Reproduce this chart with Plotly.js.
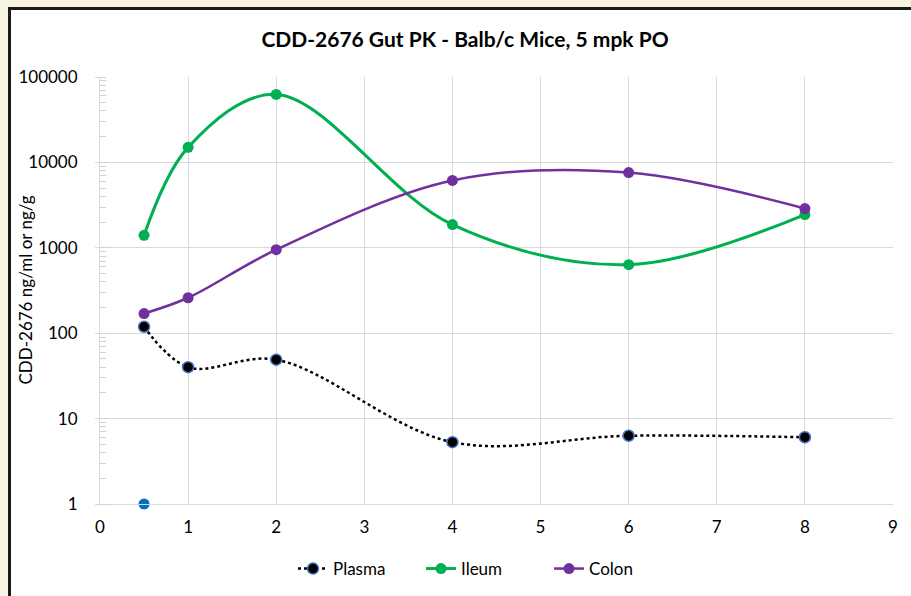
<!DOCTYPE html>
<html><head><meta charset="utf-8">
<script src="https://cdn.plot.ly/plotly-3.0.1.min.js"></script>
<style>
html,body{margin:0;padding:0;background:#f8f4e4;width:911px;height:596px;overflow:hidden;}
#frame{position:absolute;left:8px;top:7px;width:903px;height:589px;background:#fff;border-top:3px solid #1a1a1a;border-left:3px solid #1a1a1a;}
#chart{position:absolute;left:0;top:0;width:911px;height:596px;}
</style></head>
<body>
<div id="frame"></div>
<div id="chart"></div>
<script>
const timeHours = [0.5, 1, 2, 4, 6, 8];
const plasma = [119, 40, 49, 5.3, 6.3, 6.05];
const ileum = [1400, 15000, 62500, 1870, 635, 2450];
const colon = [170, 260, 950, 6150, 7600, 2880];
const extraX = [0.5];
const extraY = [1];
const xTicks = [0,1,2,3,4,5,6,7,8,9];
const yTicks = [1,10,100,1000,10000,100000];
const yTickText = ['1','10','100','1000','10000','100000'];

const traces = [
  {x: timeHours, y: plasma, name: 'Plasma', mode: 'lines+markers', cliponaxis: false,
   line: {color: '#000', width: 2.5, dash: 'dot', shape: 'spline', smoothing: 1},
   marker: {color: '#000', size: 11, line: {color: '#4472C4', width: 1.5}}},
  {x: timeHours, y: ileum, name: 'Ileum', mode: 'lines+markers', cliponaxis: false,
   line: {color: '#00B050', width: 3, shape: 'spline', smoothing: 1},
   marker: {color: '#00B050', size: 11}},
  {x: timeHours, y: colon, name: 'Colon', mode: 'lines+markers', cliponaxis: false,
   line: {color: '#7030A0', width: 2.5, shape: 'spline', smoothing: 1},
   marker: {color: '#7030A0', size: 11}},
  {x: extraX, y: extraY, name: 'Series', mode: 'markers', showlegend: false, cliponaxis: false,
   marker: {color: '#0070C0', size: 11}}
];

const font = 'Lato, "Open Sans", sans-serif';
const layout = {
  width: 911, height: 596,
  paper_bgcolor: 'rgba(0,0,0,0)', plot_bgcolor: 'rgba(0,0,0,0)',
  margin: {l: 100, r: 18, t: 77, b: 92},
  font: {family: font, color: '#000', size: 17},
  title: {text: '<b>CDD-2676 Gut PK - Balb/c Mice, 5 mpk PO</b>', font: {size: 21, family: font},
          x: 465/911, xref: 'container', y: 1 - 40/596, yanchor: 'middle'},
  xaxis: {range: [0, 9], tickvals: xTicks, ticktext: xTicks.map(String),
          showgrid: true, gridcolor: '#d9d9d9', gridwidth: 1,
          showline: true, linecolor: '#d9d9d9', linewidth: 1, zeroline: false,
          ticks: '', ticklabelstandoff: 8, tickfont: {size: 17}, mirror: false},
  yaxis: {type: 'log', range: [0, 5], tickvals: yTicks, ticktext: yTickText,
          showgrid: true, gridcolor: '#d9d9d9', gridwidth: 1,
          showline: true, linecolor: '#d9d9d9', linewidth: 1, zeroline: false,
          ticks: 'outside', ticklen: 4, tickcolor: '#d9d9d9', ticklabelstandoff: 14,
          tickfont: {size: 17},
          minor: {ticks: 'inside', ticklen: 6, tickcolor: '#d0d0d0', dtick: 'D1', showgrid: false}},
  annotations: [{text: 'CDD-2676 ng/ml or ng/g', textangle: -90, showarrow: false,
                 xref: 'paper', x: (25 - 100) / 793, xanchor: 'center',
                 yref: 'paper', y: 0.5, yanchor: 'middle', font: {size: 17}}],
  legend: {orientation: 'h', xref: 'container', x: 293/911, xanchor: 'left',
           yref: 'container', y: 1 - 569/596, yanchor: 'middle', font: {size: 17},
           entrywidth: 83, entrywidthmode: 'pixels', bgcolor: 'rgba(0,0,0,0)'},
  showlegend: true
};
Plotly.newPlot('chart', traces, layout, {displayModeBar: false, staticPlot: true});
</script>
</body></html>
